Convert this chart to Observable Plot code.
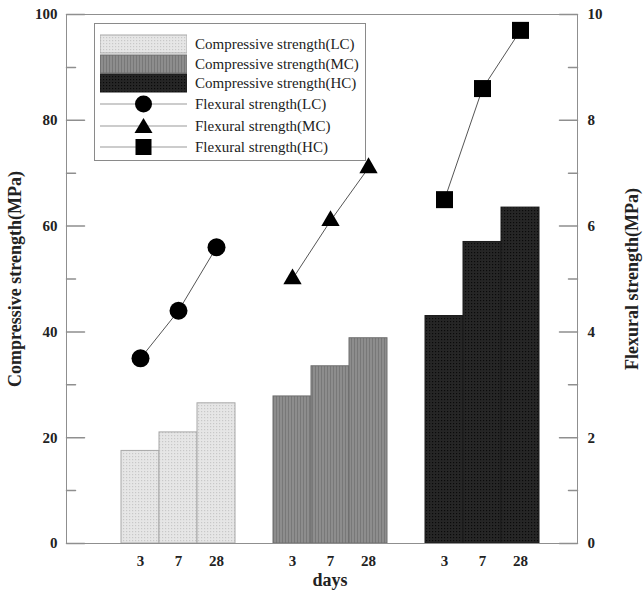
<!DOCTYPE html>
<html><head><meta charset="utf-8">
<script src="https://cdn.jsdelivr.net/npm/d3@7"></script>
<script src="https://cdn.jsdelivr.net/npm/@observablehq/plot@0.6"></script>
<style>
body{margin:0;background:#fff;}
#wrap{position:relative;width:643px;height:591px;font-family:"Liberation Serif","Times New Roman",serif;}
#legend{position:absolute;left:94px;top:23px;width:272px;height:138px;border:1px solid #8a8a8a;background:#fff;box-sizing:border-box;}
.sw{position:absolute;left:5px;width:87px;height:20px;}
.lt{position:absolute;left:100px;font-size:15px;line-height:20px;height:20px;color:#222;white-space:nowrap;}
</style></head><body><div id="wrap"></div>
<script>
// ---- data ----
const groups = ["LC", "MC", "HC"];
const days = ["3", "7", "28"];
const compLC = [17.5, 21.0, 26.5];
const compMC = [27.8, 33.5, 38.8];
const compHC = [43.0, 57.0, 63.5];
const flexLC = [3.5, 4.4, 5.6];
const flexMC = [5.0, 6.1, 7.1];
const flexHC = [6.5, 8.6, 9.7];
const leftTicks = [0, 20, 40, 60, 80, 100];
const leftMinor = [10, 30, 50, 70, 90];
const rightTicks = [0, 2, 4, 6, 8, 10];
const rightMinor = [1, 3, 5, 7, 9];
const legendLabels = ["Compressive strength(LC)", "Compressive strength(MC)", "Compressive strength(HC)",
  "Flexural strength(LC)", "Flexural strength(MC)", "Flexural strength(HC)"];

const comp = {LC: compLC, MC: compMC, HC: compHC};
const flex = {LC: flexLC, MC: flexMC, HC: flexHC};
const slot = (g, d) => g + "-" + d;
const realSlots = groups.flatMap(g => days.map(d => slot(g, d)));
const domain = [];
groups.forEach((g, gi) => { if (gi > 0) domain.push("gap" + gi); days.forEach(d => domain.push(slot(g, d))); });

const compRows = groups.flatMap(g => days.map((d, i) => ({group: g, slot: slot(g, d), value: comp[g][i]})));
const flexRows = groups.flatMap(g => days.map((d, i) => ({group: g, slot: slot(g, d), value: flex[g][i]})));

const fills = {LC: "url(#pLC)", MC: "url(#pMC)", HC: "url(#pHC)"};
const strokes = {LC: "#a8a8a8", MC: "#6e6e6e", HC: "#1a1a1a"};
const symbols = {LC: "circle", MC: "triangle", HC: "square"};
const radii = {LC: 9, MC: 6.8, HC: 9.6};

const lineShape = {draw(context, l) { context.moveTo(0, 0); context.lineTo(0, -l); }};
const frameStroke = "#8f8f8f";

const marks = [];
groups.forEach(g => marks.push(Plot.barY(compRows.filter(r => r.group === g),
  {x: "slot", y: "value", fill: fills[g], stroke: strokes[g], strokeWidth: 1})));
marks.push(Plot.frame({stroke: frameStroke}));
// ticks (inward)
marks.push(Plot.vector(leftTicks, {y: d => d, frameAnchor: "left", rotate: 90, length: 18, anchor: "start", shape: lineShape, stroke: frameStroke}));
marks.push(Plot.vector(leftMinor, {y: d => d, frameAnchor: "left", rotate: 90, length: 9, anchor: "start", shape: lineShape, stroke: frameStroke}));
marks.push(Plot.vector(rightTicks, {y: d => d * 10, frameAnchor: "right", rotate: -90, length: 18, anchor: "start", shape: lineShape, stroke: frameStroke}));
marks.push(Plot.vector(rightMinor, {y: d => d * 10, frameAnchor: "right", rotate: -90, length: 9, anchor: "start", shape: lineShape, stroke: frameStroke}));
// axes labels
marks.push(Plot.axisY({anchor: "left", ticks: leftTicks, tickSize: 0, tickPadding: 9, label: null, fill: "#222"}));
marks.push(Plot.axisY({anchor: "right", ticks: rightTicks.map(d => d * 10), tickFormat: (d, i) => rightTicks[i], tickSize: 0, tickPadding: 10, label: null, fill: "#222"}));
marks.push(Plot.axisX({anchor: "bottom", ticks: realSlots, tickFormat: s => s.split("-")[1], tickSize: 0, tickPadding: 12, label: null, fill: "#222"}));
// flexural lines + points
groups.forEach(g => {
  const rows = flexRows.filter(r => r.group === g);
  marks.push(Plot.line(rows, {x: "slot", y: d => d.value * 10, stroke: "#555", strokeWidth: 1}));
  marks.push(Plot.dot(rows, {x: "slot", y: d => d.value * 10, symbol: symbols[g], r: radii[g], fill: "#000", stroke: "none"}));
});
// titles
marks.push(Plot.text(["Compressive strength(MPa)"], {frameAnchor: "left", textAnchor: "middle", dx: -51, rotate: -90, fontSize: 18, fontWeight: "bold", fill: "#222"}));
marks.push(Plot.text(["Flexural strength(MPa)"], {frameAnchor: "right", textAnchor: "middle", dx: 55, rotate: -90, fontSize: 18, fontWeight: "bold", fill: "#222"}));
marks.push(Plot.text(["days"], {frameAnchor: "bottom", textAnchor: "middle", dx: 8, dy: 42, fontSize: 18, fontWeight: "bold", fill: "#222"}));

const svg = Plot.plot({
  width: 643, height: 591,
  marginTop: 14, marginBottom: 48, marginLeft: 66, marginRight: 66,
  x: {type: "band", domain, range: [121, 539], padding: 0},
  y: {domain: [0, 100]},
  style: {fontFamily: "'Liberation Serif','Times New Roman',serif", fontSize: "15px", fontWeight: "bold", background: "#fff"},
  marks
});

// patterns
const defs = d3.select(svg).insert("defs", ":first-child");
function dotPattern(id, bg, fg) {
  const p = defs.append("pattern").attr("id", id).attr("patternUnits", "userSpaceOnUse").attr("width", 3).attr("height", 3);
  p.append("rect").attr("width", 3).attr("height", 3).attr("fill", bg);
  p.append("rect").attr("width", 1.2).attr("height", 1.2).attr("fill", fg);
}
dotPattern("pLC", "#e6e6e6", "#c8c8c8");
dotPattern("pHC", "#262626", "#0a0a0a");
{
  const p = defs.append("pattern").attr("id", "pMC").attr("patternUnits", "userSpaceOnUse").attr("width", 3).attr("height", 3);
  p.append("rect").attr("width", 3).attr("height", 3).attr("fill", "#8d8d8d");
  p.append("rect").attr("width", 1).attr("height", 3).attr("fill", "#787878");
}

const wrap = document.getElementById("wrap");
wrap.appendChild(svg);

// legend
const legend = document.createElement("div");
legend.id = "legend";
const rowTops = [10, 30, 49, 70, 92, 113];
const ns = "http://www.w3.org/2000/svg";
legendLabels.forEach((lab, i) => {
  const s = document.createElementNS(ns, "svg");
  s.setAttribute("class", "sw");
  s.setAttribute("width", 87); s.setAttribute("height", 20);
  s.style.top = rowTops[i] + "px";
  if (i < 3) {
    const g = groups[i];
    s.innerHTML = `<rect x="0" y="1" width="87" height="18" fill="${fills[g]}" stroke="${strokes[g]}"/>`;
  } else {
    const g = groups[i - 3];
    let m = "";
    if (g === "LC") m = `<circle cx="43.5" cy="10" r="8.5" fill="#000"/>`;
    if (g === "MC") m = `<path d="M43.5,2 L52.5,17 L34.5,17 Z" fill="#000"/>`;
    if (g === "HC") m = `<rect x="35.5" y="2" width="16" height="16" fill="#000"/>`;
    s.innerHTML = `<line x1="0" x2="87" y1="10" y2="10" stroke="#999"/>` + m;
  }
  legend.appendChild(s);
  const t = document.createElement("div");
  t.className = "lt";
  t.style.top = rowTops[i] + "px";
  t.textContent = lab;
  legend.appendChild(t);
});
wrap.appendChild(legend);
</script>
</body></html>
